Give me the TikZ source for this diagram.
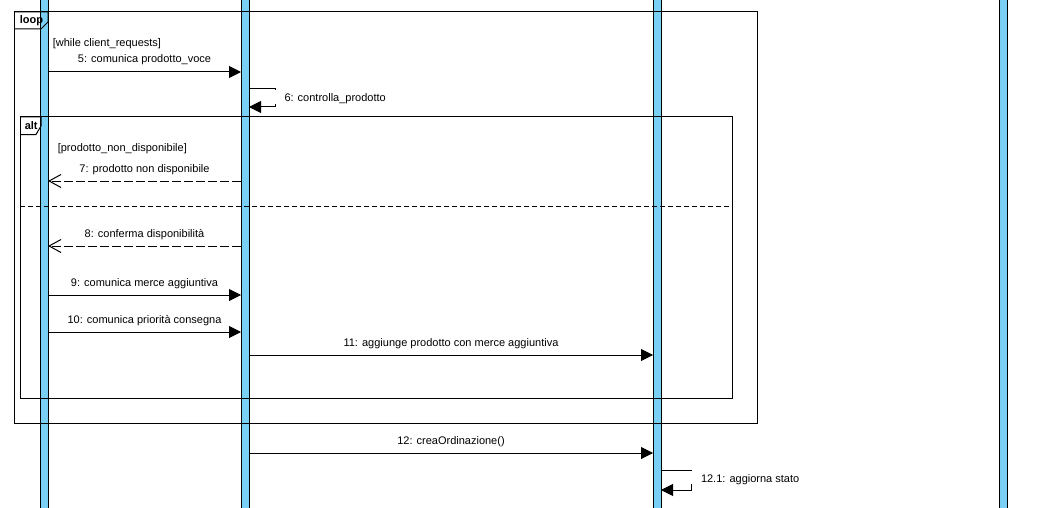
\documentclass[tikz,border=0pt]{standalone}
\usepackage{fontspec}
\setmainfont{Liberation Sans}
\usetikzlibrary{arrows.meta,positioning}
\definecolor{barblue}{RGB}{122,207,245}

\begin{document}
\begin{tikzpicture}[x=1pt,y=-1pt,line width=1pt,
        font=\fontsize{11}{13}\selectfont,
        bar/.style={draw=black,fill=barblue},
        call/.style={-{Triangle[length=12pt,width=12pt]}},
        reply/.style={dash pattern=on 9pt off 3pt,-{Straight Barb[length=12pt,width=13pt]}},
        lbl/.style={above=5.5pt,inner sep=1pt,text height=7.5pt,text depth=2pt},
        txt/.style={anchor=base west,inner sep=0pt},
        selflbl/.style={anchor=base west,fill=white,inner xsep=0pt,inner ysep=1pt,
            text height=10.5pt,text depth=1.2pt}]
        \useasboundingbox (0,0) rectangle (1051,508);

        % lifelines
        \filldraw[bar] (40,-2) rectangle (48,510);
        \filldraw[bar] (241,-2) rectangle (249,510);
        \filldraw[bar] (653,-2) rectangle (661,510);
        \filldraw[bar] (999,-2) rectangle (1007,510);

        % loop frame
        \draw (14,12) rectangle (757,423);
        \draw (14,12) -- (48,12) -- (48,22) -- (41,29) -- (14,29);
        \node[txt] (loop) at (19.3,24) {\textbf{loop}};
        \node[txt] (g1) at (52.3,46.5) {[while client\_requests]};

        % alt frame
        \draw (20,117) rectangle (732,398);
        \draw (20,117) -- (41,117) -- (41,126) -- (36,134.5) -- (20,134.5);
        \node[txt] (alt) at (24.3,129.3) {\textbf{alt}};
        \node[txt] (g2) at (57.3,151.5) {[prodotto\_non\_disponibile]};
        \draw[dash pattern=on 5pt off 3pt] (20,206) -- (732,206);

        % messages
        \coordinate (m5a) at (48,72);
        \coordinate (m5b) at (241,72);
        \draw[call] (m5a) -- node[lbl] (t5) {5: comunica prodotto\_voce} (m5b);

        \coordinate (m6a) at (249,89);
        \coordinate (m6b) at (249,107);
        \draw[call] (m6a) -- ++(26,0) |- (m6b);
        \node[selflbl,inner xsep=10pt] (t6) at (274,101.5) {\hspace{0pt}6: controlla\_prodotto};

        \coordinate (m7a) at (241,181);
        \coordinate (m7b) at (48,181);
        \draw[reply] (m7a) -- node[lbl] (t7) {7: prodotto non disponibile} (m7b);

        \coordinate (m8a) at (241,246);
        \coordinate (m8b) at (48,246);
        \draw[reply] (m8a) -- node[lbl] (t8) {8: conferma disponibilità} (m8b);

        \coordinate (m9a) at (48,295);
        \coordinate (m9b) at (241,295);
        \draw[call] (m9a) -- node[lbl] (t9) {9: comunica merce aggiuntiva} (m9b);

        \coordinate (m10a) at (48,332);
        \coordinate (m10b) at (241,332);
        \draw[call] (m10a) -- node[lbl] (t10) {10: comunica priorità consegna} (m10b);

        \coordinate (m11a) at (249,355);
        \coordinate (m11b) at (653,355);
        \draw[call] (m11a) -- node[lbl] (t11) {11: aggiunge prodotto con merce aggiuntiva} (m11b);

        \coordinate (m12a) at (249,453);
        \coordinate (m12b) at (653,453);
        \draw[call] (m12a) -- node[lbl] (t12) {12: creaOrdinazione()} (m12b);

        \coordinate (m121a) at (661,470);
        \coordinate (m121b) at (661,490);
        \draw[call] (m121a) -- ++(30,0) |- (m121b);
        \node[selflbl,inner xsep=11pt] (t121) at (689.5,482) {12.1: aggiorna stato};
    \end{tikzpicture}
\end{document}
